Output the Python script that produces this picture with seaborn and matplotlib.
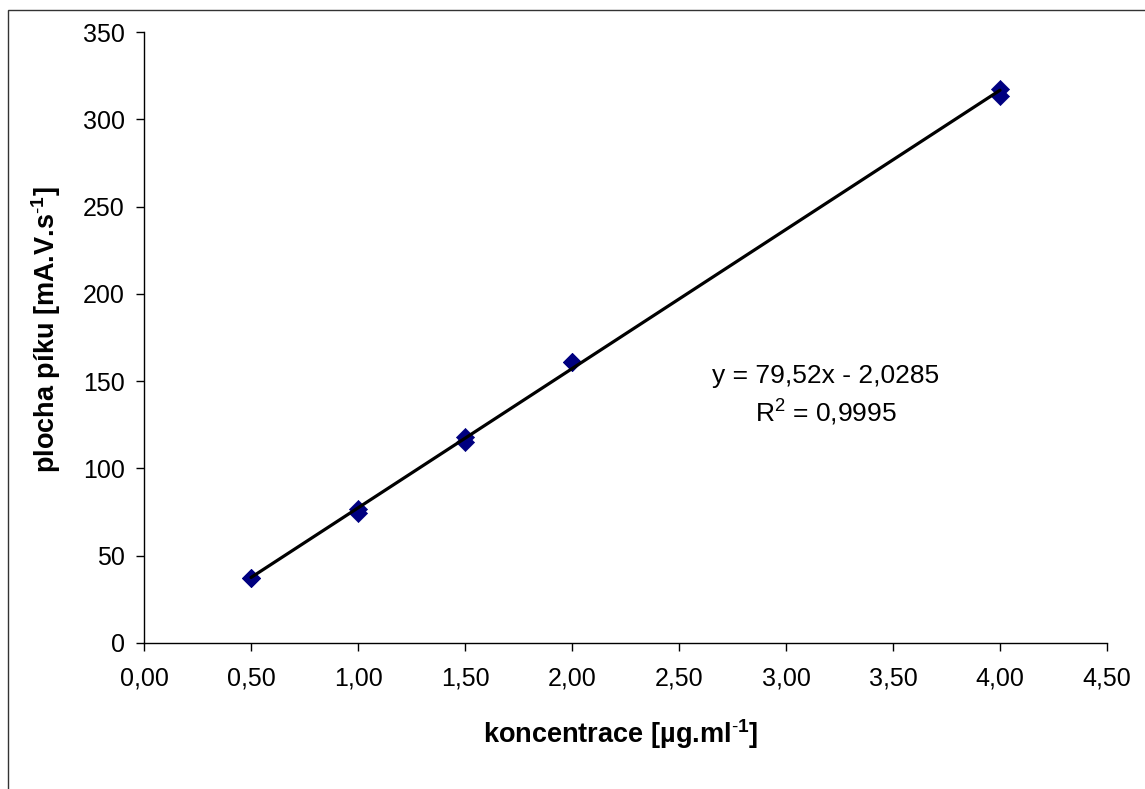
import matplotlib
matplotlib.use("Agg")
import matplotlib.pyplot as plt
import seaborn as sns
import pandas as pd
from matplotlib.patches import Rectangle
from matplotlib.ticker import FuncFormatter, MultipleLocator

# data
concentration = [0.5, 0.5, 1.0, 1.0, 1.5, 1.5, 2.0, 2.0, 4.0, 4.0]
peak_area = [37.5, 37.5, 74.5, 76.5, 115.0, 118.0, 161.0, 161.0, 313.5, 317.5]
equation_text = "y = 79,52x - 2,0285"
r2_text = "R$^2$ = 0,9995"
x_label = r"koncentrace [µg.ml$^{\mathbf{\text{-}1}}$]"
y_label = r"plocha píku [mA.V.s$^{\mathbf{\text{-}1}}$]"

sns.set_theme(style="white")
plt.rcParams['font.family'] = ['Liberation Sans', 'DejaVu Sans']
plt.rcParams['mathtext.fontset'] = 'custom'
plt.rcParams['mathtext.rm'] = 'Liberation Sans'
plt.rcParams['mathtext.bf'] = 'Liberation Sans:bold'
plt.rcParams['mathtext.it'] = 'Liberation Sans:italic'

df = pd.DataFrame({"x": concentration, "y": peak_area})

FS_TICK = 18
FS_LABEL = 19.5
FS_TEXT = 19
W, H = 1145, 789
fig = plt.figure(figsize=(W / 100, H / 100), dpi=100)
ax = fig.add_axes([144 / W, 1 - 643 / H, (1107 - 144) / W, (643 - 32) / H])

sns.regplot(data=df, x="x", y="y", ax=ax, ci=None, truncate=True,
            marker="D",
            scatter_kws=dict(s=85, color="#000080", edgecolors="#000080", linewidths=0.5,
                             alpha=1, zorder=3),
            line_kws=dict(color="black", lw=2.3, zorder=4))

ax.set_xlim(0, 4.5)
ax.set_ylim(0, 350)
ax.xaxis.set_major_locator(MultipleLocator(0.5))
ax.yaxis.set_major_locator(MultipleLocator(50))
ax.xaxis.set_major_formatter(FuncFormatter(lambda v, p: f"{v:.2f}".replace(".", ",")))
ax.yaxis.set_major_formatter(FuncFormatter(lambda v, p: f"{v:.0f}"))

for s in ["top", "right"]:
    ax.spines[s].set_visible(False)
for s in ["left", "bottom"]:
    ax.spines[s].set_color("black")
    ax.spines[s].set_linewidth(1.0)

ax.tick_params(axis="both", direction="out", length=6, width=1, color="black",
               labelsize=FS_TICK, labelcolor="black")
ax.tick_params(axis="y", left=True, pad=8)
ax.tick_params(axis="x", bottom=True, pad=11)

ax.set_xlabel(x_label, fontsize=FS_LABEL, fontweight="bold", color="black")
ax.set_ylabel(y_label, fontsize=FS_LABEL, fontweight="bold", color="black")
ax.xaxis.label.set_va("center")
ax.yaxis.label.set_va("center")
ax.xaxis.set_label_coords((621 - 144) / 963, (643 - 734) / 611)
ax.yaxis.set_label_coords((46 - 144) / 963, (643 - 330) / 611)

ax.text(3.187, 148.9, equation_text, fontsize=FS_TEXT, ha="center", va="baseline", color="black")
ax.text(3.187, 126.6, r2_text, fontsize=FS_TEXT, ha="center", va="baseline", color="black")

fig.add_artist(Rectangle((7.5 / W, -0.1), 1.2, 1 - 10 / H + 0.1, transform=fig.transFigure,
                         fill=False, edgecolor="#333333", lw=1.0, clip_on=False))

fig.savefig("out.png", dpi=100, facecolor="white")
